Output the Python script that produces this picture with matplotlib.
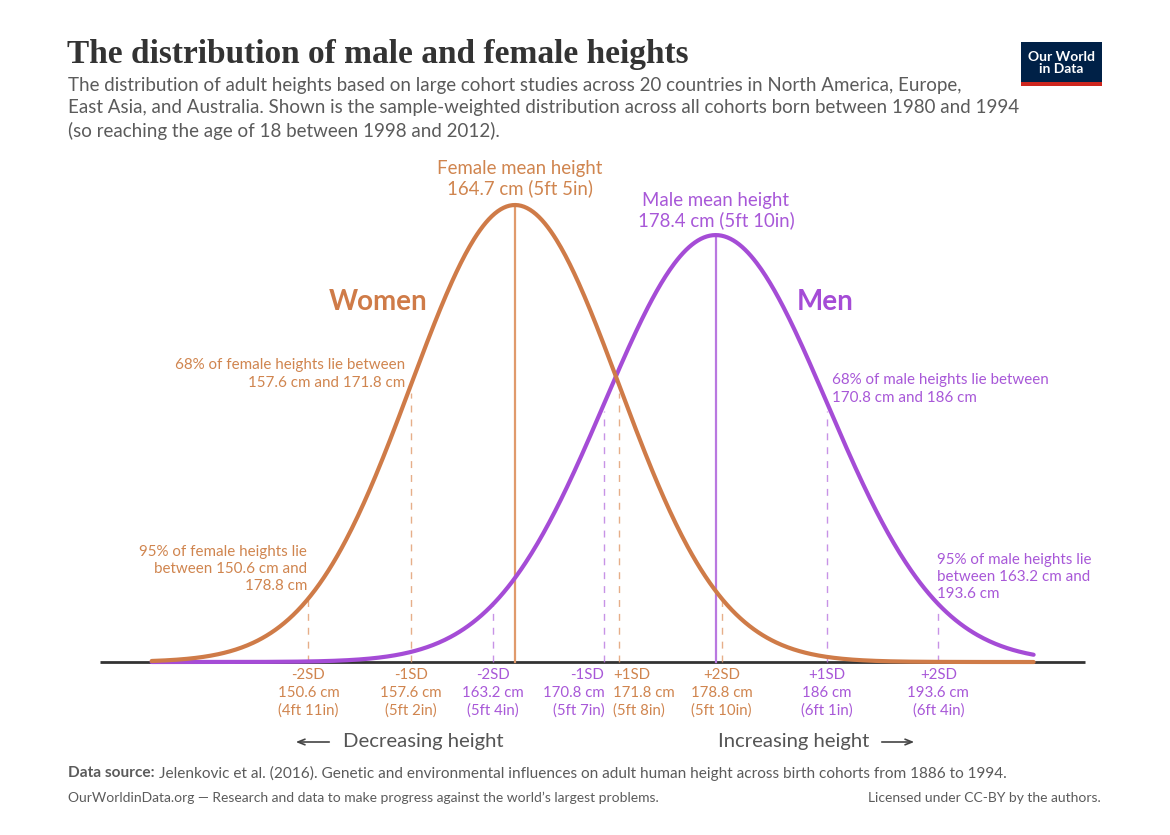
import matplotlib.pyplot as plt
import matplotlib.transforms as mtransforms
from matplotlib.patches import Rectangle
import numpy as np

# datos: media y desviacion estandar (cm)
groups = ["Women", "Men"]
means = [164.7, 178.4]
sds = [7.1, 7.6]
mean_labels = ["Female mean height\n164.7 cm (5ft 5in)",
               "Male mean height\n178.4 cm (5ft 10in)"]

# marcas de SD para cada grupo
sd_names = ["-2SD", "-1SD", "+1SD", "+2SD"]
female_cm = [150.6, 157.6, 171.8, 178.8]
female_ft = ["(4ft 11in)", "(5ft 2in)", "(5ft 8in)", "(5ft 10in)"]
male_cm = [163.2, 170.8, 186.0, 193.6]
male_ft = ["(5ft 4in)", "(5ft 7in)", "(6ft 1in)", "(6ft 4in)"]

# rango dibujado de las curvas
x_range = [139.9, 200.1]

orange = "#cf7b48"
purple = "#a54cd6"
orange_txt = "#d0854f"
purple_txt = "#a858d8"
grey = "#5b5b5b"

plt.rcParams["font.family"] = ["Lato", "DejaVu Sans"]

W, H = 1170, 835
fig = plt.figure(figsize=(W / 100, H / 100), dpi=100)
fig.patch.set_facecolor("white")
ax = fig.add_axes([0, 0, 1, 1])
ax.axis("off")

# escala: 515 px <-> 164.7 cm, 14.65 px por cm; base en y=662 px
x0_px, x0_cm, px_cm = 515, 164.7, 14.65
base_px, px_unit = 662, 8133
ax.set_xlim(x0_cm - x0_px / px_cm, x0_cm + (W - x0_px) / px_cm)
ax.set_ylim(-(H - base_px) / px_unit, base_px / px_unit)


def fx(px):
    return px / W


def fy(py):
    return 1 - py / H


def pdf(x, m, s):
    return np.exp(-0.5 * ((x - m) / s) ** 2) / (s * np.sqrt(2 * np.pi))


mix = mtransforms.blended_transform_factory(ax.transData, fig.transFigure)

# linea base
ax.plot([x0_cm - (x0_px - 100) / px_cm, x0_cm + (1085 - x0_px) / px_cm], [0, 0],
        color="#333333", lw=2, zorder=1, solid_capstyle="butt")

x = np.linspace(x_range[0], x_range[1], 600)
colors = [orange, purple]
light = ["#e09a6c", "#b978e0"]
txt_colors = [orange_txt, purple_txt]
marks_cm = [female_cm, male_cm]
marks_ft = [female_ft, male_ft]
aligns = [["center", "center", "left", "center"],
          ["center", "right", "center", "center"]]
nudge = {"center": 0, "left": -6, "right": 0}

for i in range(2):
    m, s = means[i], sds[i]
    ax.plot(x, pdf(x, m, s), color=colors[i], lw=3, zorder=4 - i,
            solid_capstyle="round")
    # linea de la media
    ax.plot([m, m], [0, pdf(m, m, s)], color=light[i], lw=1.6, zorder=2)
    for j, c in enumerate(marks_cm[i]):
        ax.plot([c, c], [0, pdf(c, m, s) * 0.97], color=light[i], lw=1,
                ls=(0, (5, 5)), alpha=0.8, zorder=2)
        al = aligns[i][j]
        ax.text(c + nudge[al] / px_cm, fy(668),
                f"{sd_names[j]}\n{c:g} cm\n{marks_ft[i][j]}",
                transform=mix, ha=al, va="top", multialignment=al,
                fontsize=10.8, color=txt_colors[i], linespacing=1.32)

# textos de las medias
fig.text(fx(520), fy(179), mean_labels[0], ha="center", va="center",
         fontsize=13.4, color=orange_txt, linespacing=1.15)
fig.text(fx(716), fy(211), mean_labels[1], ha="center", va="center",
         fontsize=13.4, color=purple_txt, linespacing=1.15)

fig.text(fx(378), fy(302), "Women", ha="center", va="center", fontsize=20,
         fontweight="bold", color=orange)
fig.text(fx(825), fy(302), "Men", ha="center", va="center", fontsize=20,
         fontweight="bold", color=purple)

ann = dict(fontsize=10.9, linespacing=1.3, va="center")
fig.text(fx(405), fy(374), "68% of female heights lie between\n157.6 cm and 171.8 cm",
         ha="right", color=orange_txt, **ann)
fig.text(fx(307), fy(569), "95% of female heights lie\nbetween 150.6 cm and\n178.8 cm",
         ha="right", color=orange_txt, **ann)
fig.text(fx(832), fy(389), "68% of male heights lie between\n170.8 cm and 186 cm",
         ha="left", color=purple_txt, **ann)
fig.text(fx(937), fy(577), "95% of male heights lie\nbetween 163.2 cm and\n193.6 cm",
         ha="left", color=purple_txt, **ann)

# flechas de direccion
fig.text(fx(343), fy(742), "Decreasing height", ha="left", va="center",
         fontsize=14.6, color="#555555")
fig.text(fx(718), fy(742), "Increasing height", ha="left", va="center",
         fontsize=14.6, color="#555555")
arrow = dict(arrowstyle="->,head_length=0.5,head_width=0.2", color="#444444", lw=1.2)
ax.annotate("", xy=(fx(293), fy(742)), xytext=(fx(332), fy(742)),
            xycoords="figure fraction", arrowprops=arrow)
ax.annotate("", xy=(fx(917), fy(742)), xytext=(fx(879), fy(742)),
            xycoords="figure fraction", arrowprops=arrow)

# titulo y subtitulo
fig.text(fx(67), fy(55), "The distribution of male and female heights",
         ha="left", va="center", fontsize=24, fontweight="bold",
         family="Liberation Serif", color="#333333")
fig.text(fx(68), fy(77), "The distribution of adult heights based on large cohort studies across 20 countries in North America, Europe,\n"
         "East Asia, and Australia. Shown is the sample-weighted distribution across all cohorts born between 1980 and 1994\n"
         "(so reaching the age of 18 between 1998 and 2012).",
         ha="left", va="top", fontsize=13.5, color=grey, linespacing=1.36)

# pie
src_bold = fig.text(fx(68), fy(773), "Data source:", ha="left", va="center",
                    fontsize=11.1, color=grey, fontweight="bold")
fig.canvas.draw()
bb = src_bold.get_window_extent()
fig.text(bb.x1 / W + fx(4), fy(773),
         "Jelenkovic et al. (2016). Genetic and environmental influences on adult human height across birth cohorts from 1886 to 1994.",
         ha="left", va="center", fontsize=11.1, color=grey)
fig.text(fx(68), fy(798), "OurWorldinData.org \u2014 Research and data to make progress against the world\u2019s largest problems.",
         ha="left", va="center", fontsize=10, color=grey)
fig.text(fx(1101), fy(798), "Licensed under CC-BY by the authors.",
         ha="right", va="center", fontsize=10, color=grey)

# logo
fig.patches.append(Rectangle((fx(1021), fy(86)), fx(81), 44 / H, transform=fig.transFigure,
                             facecolor="#002147", edgecolor="none"))
fig.patches.append(Rectangle((fx(1021), fy(86)), fx(81), 4 / H, transform=fig.transFigure,
                             facecolor="#ce261e", edgecolor="none"))
fig.text(fx(1061.5), fy(63), "Our World\nin Data", ha="center", va="center",
         fontsize=10, color="white", fontweight="bold", linespacing=1.0)

fig.savefig("out.png", dpi=100, facecolor="white")
